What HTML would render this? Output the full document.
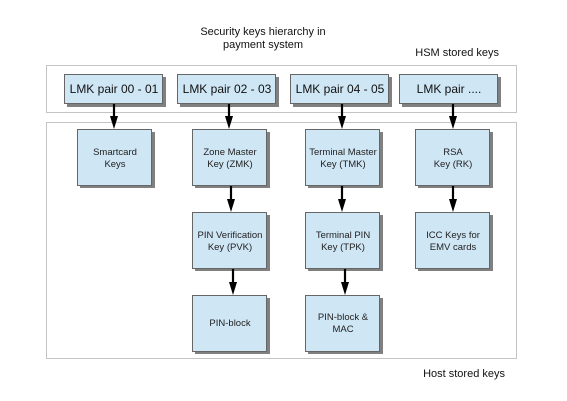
<!DOCTYPE html>
<html><head><meta charset="utf-8"><style>
html,body{margin:0;padding:0;background:#fff;}
svg{display:block;font-family:"Liberation Sans",sans-serif;}
</style></head><body>
<svg width="567" height="401" viewBox="0 0 567 401" xmlns="http://www.w3.org/2000/svg">
<text x="263" y="35" font-size="11" text-anchor="middle" fill="#111">Security keys hierarchy in</text>
<text x="263" y="48" font-size="11" text-anchor="middle" fill="#111">payment system</text>
<text x="499" y="56" font-size="11" text-anchor="end" fill="#111">HSM stored keys</text>
<text x="505" y="377" font-size="11" text-anchor="end" fill="#111">Host stored keys</text>
<rect x="46.5" y="65.5" width="470" height="47" fill="none" stroke="#888" stroke-dasharray="1,1"/>
<rect x="46.5" y="122.5" width="470" height="236" fill="none" stroke="#888" stroke-dasharray="1,1"/>
<g fill="#808080">
<rect x="67" y="77" width="99" height="30"/>
<rect x="180" y="77" width="99" height="30"/>
<rect x="293" y="77" width="99" height="30"/>
<rect x="402" y="77" width="99" height="30"/>
<rect x="80" y="132" width="75" height="56"/>
<rect x="195" y="132" width="75" height="56"/>
<rect x="308" y="132" width="75" height="56"/>
<rect x="418" y="132" width="75" height="56"/>
<rect x="195" y="215" width="75" height="56"/>
<rect x="308" y="215" width="75" height="56"/>
<rect x="418" y="215" width="75" height="56"/>
<rect x="195" y="298" width="75" height="56"/>
<rect x="308" y="298" width="75" height="56"/>
</g>
<g fill="#cfe6f5" stroke="#666" stroke-width="1">
<rect x="64.5" y="74.5" width="98" height="29"/>
<rect x="177.5" y="74.5" width="98" height="29"/>
<rect x="290.5" y="74.5" width="98" height="29"/>
<rect x="399.5" y="74.5" width="98" height="29"/>
<rect x="77.5" y="129.5" width="74" height="56"/>
<rect x="192.5" y="129.5" width="74" height="56"/>
<rect x="305.5" y="129.5" width="74" height="56"/>
<rect x="415.5" y="129.5" width="74" height="56"/>
<rect x="192.5" y="212.5" width="74" height="56"/>
<rect x="305.5" y="212.5" width="74" height="56"/>
<rect x="415.5" y="212.5" width="74" height="56"/>
<rect x="192.5" y="295.5" width="74" height="56"/>
<rect x="305.5" y="295.5" width="74" height="56"/>
</g>
<g stroke="#000" stroke-width="2.2">
<line x1="114" y1="104" x2="114" y2="118"/>
<line x1="229" y1="104" x2="229" y2="118"/>
<line x1="342" y1="104" x2="342" y2="118"/>
<line x1="453" y1="104" x2="453" y2="118"/>
<line x1="231" y1="186" x2="231" y2="201"/>
<line x1="342" y1="186" x2="342" y2="201"/>
<line x1="453" y1="186" x2="453" y2="201"/>
<line x1="233" y1="269" x2="233" y2="284"/>
<line x1="345" y1="269" x2="345" y2="284"/>
</g>
<g fill="#000">
<polygon points="110,116 118,116 114,129"/>
<polygon points="225,116 233,116 229,129"/>
<polygon points="338,116 346,116 342,129"/>
<polygon points="449,116 457,116 453,129"/>
<polygon points="227,199 235,199 231,212"/>
<polygon points="338,199 346,199 342,212"/>
<polygon points="449,199 457,199 453,212"/>
<polygon points="229,282 237,282 233,295"/>
<polygon points="341,282 349,282 345,295"/>
</g>
<g font-size="12" text-anchor="middle" fill="#111">
<text x="114" y="93">LMK pair 00 - 01</text>
<text x="227" y="93">LMK pair 02 - 03</text>
<text x="340" y="93">LMK pair 04 - 05</text>
<text x="449" y="93">LMK pair ....</text>
</g>
<g font-size="9.5" text-anchor="middle" fill="#222">
<text x="115" y="155">Smartcard</text><text x="115" y="167">Keys</text>
<text x="230" y="155">Zone Master</text><text x="230" y="167">Key (ZMK)</text>
<text x="343" y="155">Terminal Master</text><text x="343" y="167">Key (TMK)</text>
<text x="453" y="155">RSA</text><text x="453" y="167">Key (RK)</text>
<text x="230" y="238">PIN Verification</text><text x="230" y="250">Key (PVK)</text>
<text x="343" y="238">Terminal PIN</text><text x="343" y="250">Key (TPK)</text>
<text x="453" y="238">ICC Keys for</text><text x="453" y="250">EMV cards</text>
<text x="230" y="326">PIN-block</text>
<text x="343" y="320">PIN-block &amp;</text><text x="343" y="332">MAC</text>
</g>
</svg>
</body></html>
